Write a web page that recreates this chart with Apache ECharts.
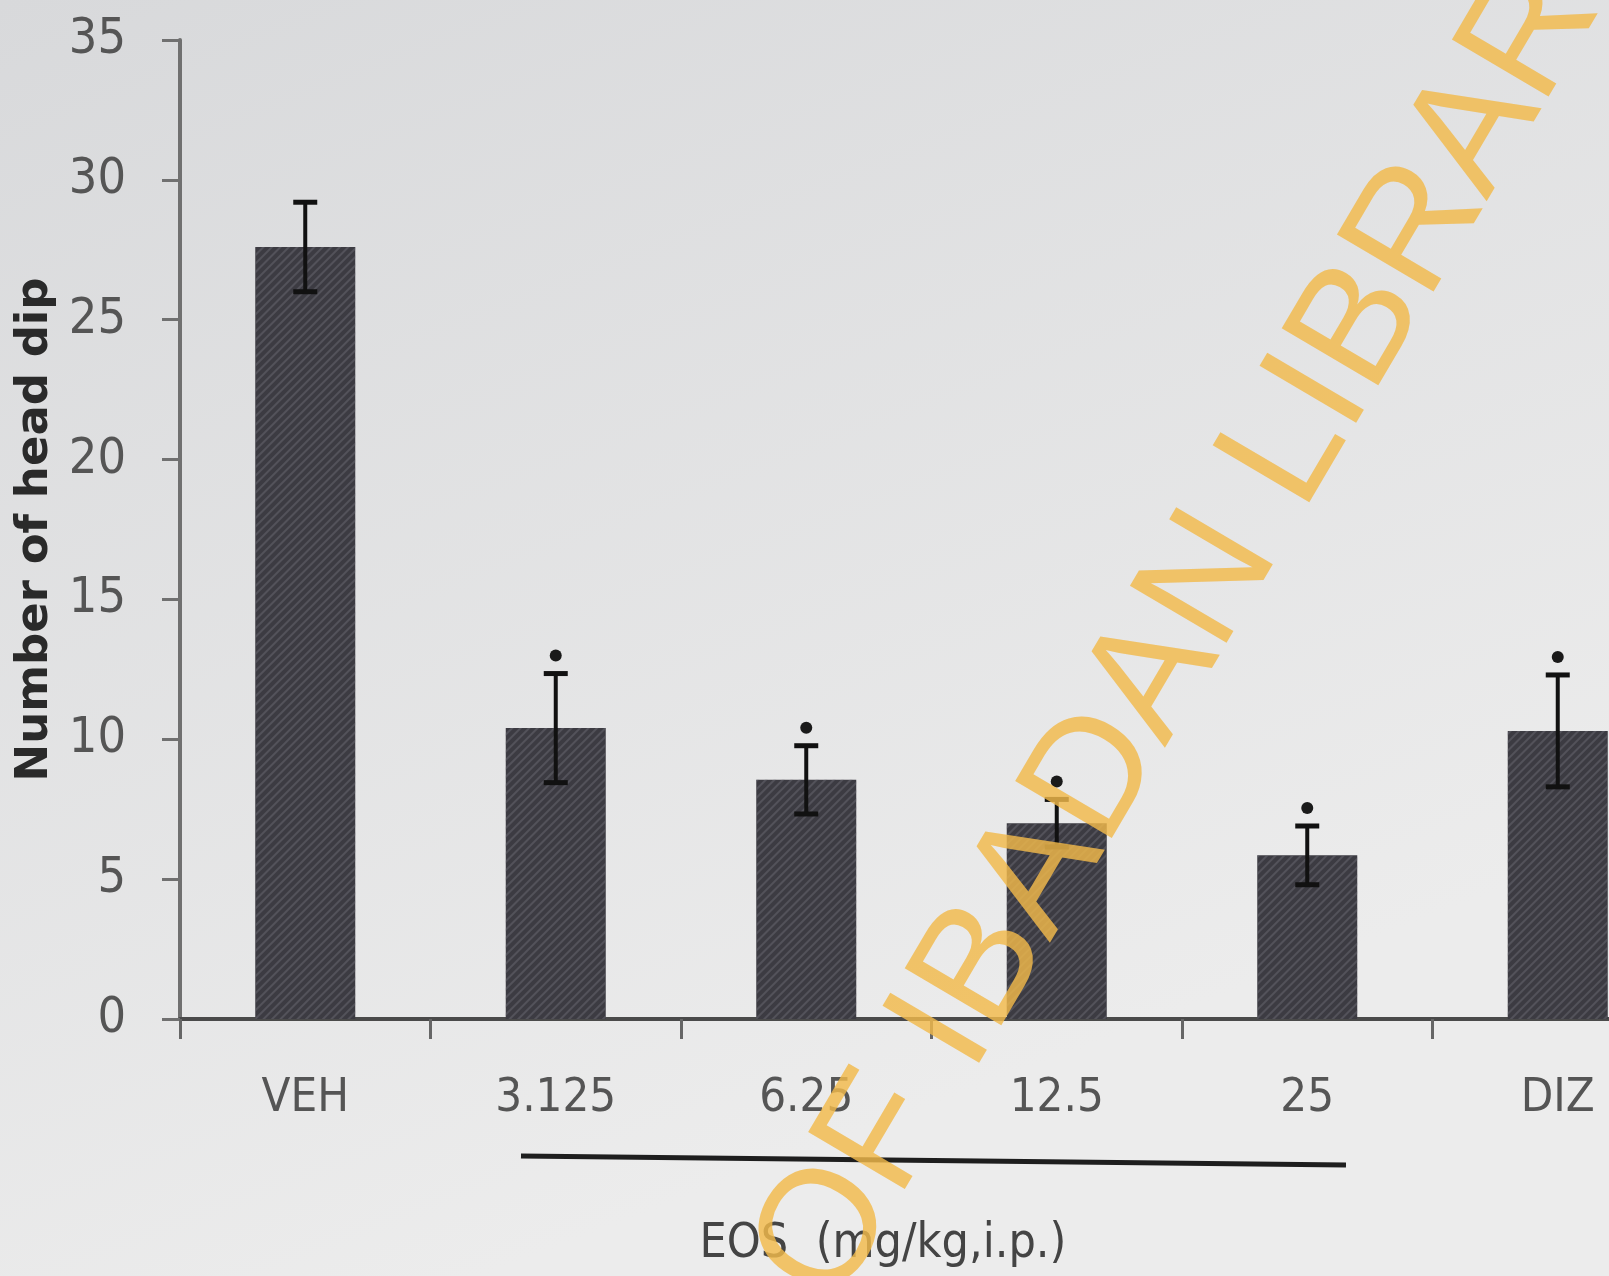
<!DOCTYPE html>
<html>
<head>
<meta charset="utf-8">
<script src="https://cdn.jsdelivr.net/npm/echarts@6/dist/echarts.min.js"></script>
<style>
html,body{margin:0;padding:0;background:#e4e4e6;}
#chart{width:1609px;height:1276px;}
</style>
</head>
<body>
<div id="chart"></div>
<script>
const categories = ['VEH', '3.125', '6.25', '12.5', '25', 'DIZ'];
const means = [27.6, 10.4, 8.55, 7.0, 5.85, 10.3];
const sem = [1.6, 1.95, 1.22, 0.85, 1.05, 2.0];
const significant = [0, 1, 1, 1, 1, 1];
const yTicks = [0, 5, 10, 15, 20, 25, 30, 35];
const yTitle = 'Number of head dip';
const xTitle = 'EOS  (mg/kg,i.p.)';
const watermark = 'OF IBADAN LIBRARY';

const errData = categories.map((c, i) => [i, means[i] - sem[i], means[i] + sem[i], significant[i]]);

const chart = echarts.init(document.getElementById('chart'));
const narrowFont = '"DejaVu Sans Condensed", "DejaVu Sans", sans-serif';

chart.setOption({
  backgroundColor: {
    type: 'linear', x: 0, y: 0, x2: 0.3, y2: 1,
    colorStops: [{offset: 0, color: '#d8d9db'}, {offset: 1, color: '#ececec'}]
  },
  animation: false,
  grid: {left: 180, top: 40, width: 1503, height: 979, outerBoundsMode: 'none', containLabel: false},
  xAxis: {
    type: 'category',
    data: categories,
    axisLine: {lineStyle: {color: '#4a4a4a', width: 4}},
    axisTick: {show: true, length: 20, lineStyle: {color: '#666', width: 3}},
    axisLabel: {
      color: '#555', fontSize: 47, fontFamily: narrowFont, margin: 56
    }
  },
  yAxis: {
    type: 'value',
    min: yTicks[0], max: yTicks[yTicks.length - 1], interval: 5,
    name: yTitle,
    nameLocation: 'middle',
    nameGap: 111,
    nameRotate: 90,
    nameTextStyle: {color: '#2a2a2a', fontSize: 45, fontWeight: 'bold', fontFamily: '"DejaVu Sans", sans-serif'},
    splitLine: {show: false},
    axisLine: {show: true, lineStyle: {color: '#707070', width: 4}},
    axisTick: {show: true, length: 18, lineStyle: {color: '#707070', width: 3}},
    axisLabel: {color: '#555', fontSize: 50, fontFamily: narrowFont, margin: 54}
  },
  series: [
    {
      type: 'bar',
      data: means,
      barWidth: 100,
      itemStyle: {
        color: '#3c3b42',
        decal: {
          color: 'rgba(110,110,120,0.45)',
          dashArrayX: [1, 0],
          dashArrayY: [2, 4],
          rotation: -Math.PI / 4,
          symbol: 'rect'
        }
      },
      z: 2
    },
    {
      type: 'custom',
      data: errData,
      z: 5,
      renderItem: function (params, api) {
        const i = api.value(0);
        const lo = api.coord([i, api.value(1)]);
        const hi = api.coord([i, api.value(2)]);
        const cap = 12;
        const children = [
          {type: 'line', shape: {x1: hi[0], y1: hi[1], x2: lo[0], y2: lo[1]}, style: {stroke: '#111', lineWidth: 4}},
          {type: 'line', shape: {x1: hi[0] - cap, y1: hi[1], x2: hi[0] + cap, y2: hi[1]}, style: {stroke: '#111', lineWidth: 5}},
          {type: 'line', shape: {x1: lo[0] - cap, y1: lo[1], x2: lo[0] + cap, y2: lo[1]}, style: {stroke: '#111', lineWidth: 5}}
        ];
        if (api.value(3) === 1) {
          children.push({type: 'circle', shape: {cx: hi[0], cy: hi[1] - 18, r: 6}, style: {fill: '#1a1a1a'}});
        }
        return {type: 'group', children: children};
      }
    }
  ],
  graphic: [
    {
      type: 'line', z: 10,
      shape: {x1: 521, y1: 1156, x2: 1346, y2: 1165},
      style: {stroke: '#1e1e1e', lineWidth: 5}
    },
    {
      type: 'text', z: 10,
      x: 883, y: 1245,
      style: {text: xTitle, fontSize: 48, fontFamily: narrowFont, fill: '#444', align: 'center', verticalAlign: 'middle'}
    },
    {
      type: 'text', z: 100,
      x: 795, y: 1287,
      rotation: 59.5 * Math.PI / 180,
      style: {text: watermark, fontSize: 163, fontFamily: '"Liberation Sans", Arial, sans-serif', fill: 'rgba(242,186,74,0.82)', align: 'left', verticalAlign: 'middle'}
    }
  ]
});
</script>
</body>
</html>
